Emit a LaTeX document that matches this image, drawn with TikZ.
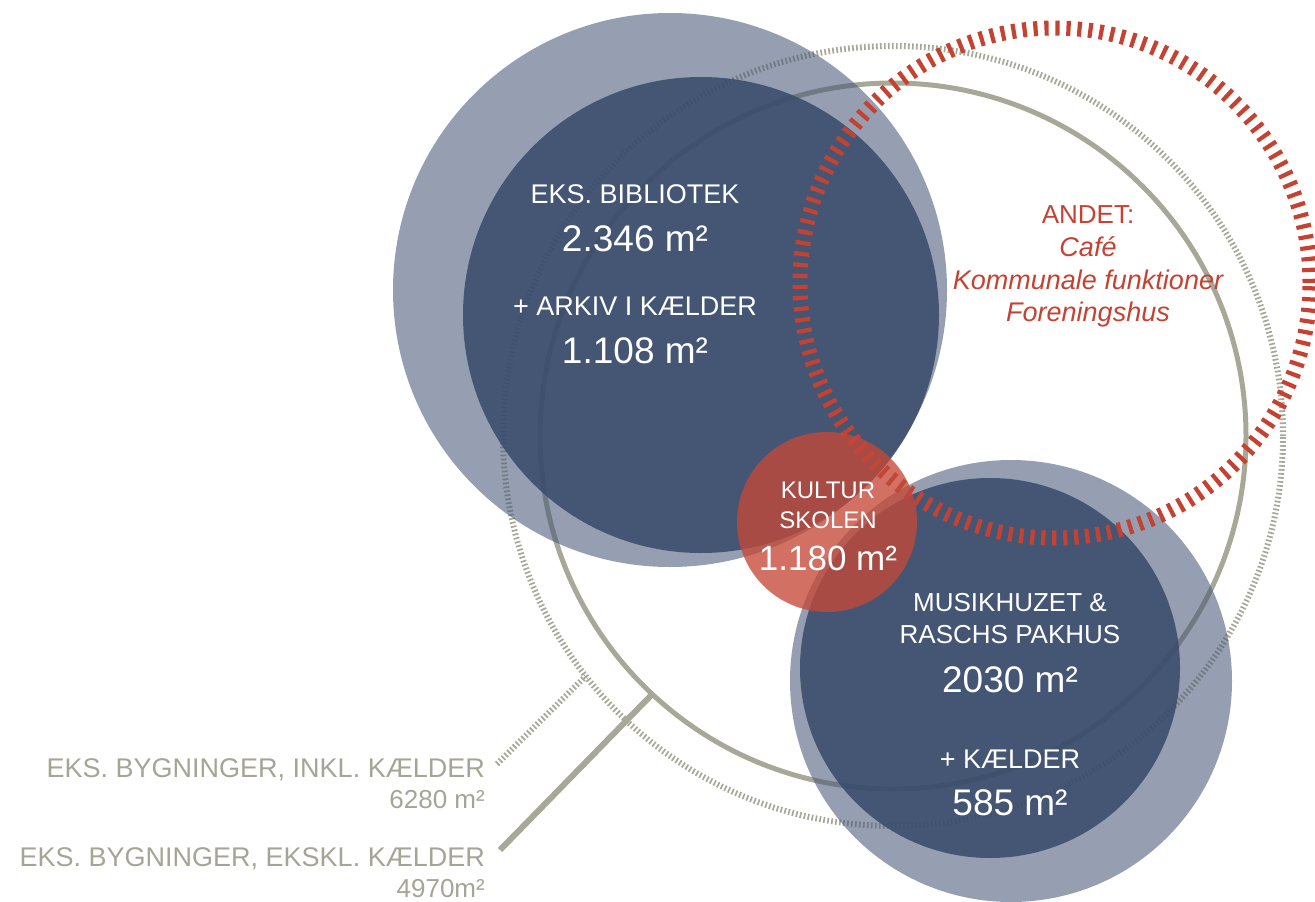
\documentclass[tikz,border=0pt]{standalone}
\usepackage{fontspec}
\setmainfont{Liberation Sans}
\definecolor{navy}{RGB}{70,87,117}
\definecolor{navydk}{RGB}{56,74,107}
\definecolor{redc}{RGB}{197,72,56}
\definecolor{ringred}{RGB}{196,66,50}
\definecolor{olive}{RGB}{168,168,152}
\definecolor{labelgray}{RGB}{165,165,150}
\begin{document}
\begin{tikzpicture}[x=1pt,y=-1pt,
  disc/.style={circle, inner sep=0pt, outer sep=0pt, draw=none},
  txt/.style={inner sep=0pt, anchor=base, text=white},
  sz/.style={font=\fontsize{#1}{#1}\selectfont},
  dotline/.style={draw=olive, line width=6pt, dash pattern=on 1.7pt off 2.3pt},
  solidline/.style={draw=olive, line width=5pt},
  halo/.style={disc, fill=navy, fill opacity=0.57},
  core/.style={disc, fill=navydk, fill opacity=0.85},
  glbl/.style={inner sep=0pt, anchor=base east, text=labelgray},
  rtxt/.style={inner sep=0pt, anchor=base, text=ringred},
]
\useasboundingbox (0,0) rectangle (1315,902);
% gray rings
\node[disc, dotline, minimum size=780pt] (dotring) at (893,436) {};
\node[disc, solidline, minimum size=706pt] (solidring) at (893,436) {};
% connectors
\coordinate (dotstart) at (497,764);
\coordinate (solidstart) at (500,850);
\draw[dotline] (dotstart) -- (dotring.218);
\draw[solidline, line width=6pt] (solidstart) -- (solidring.227);
% blue circles
\node[halo, minimum size=554pt] (libhalo) at (670,290) {};
\node[core, minimum size=476pt] (lib) at (701,315) {};
\node[halo, minimum size=442pt] (muhalo) at (1011,681) {};
\node[core, minimum size=380pt] (mu) at (990,668) {};
% red dashed ring
\node[disc, draw=ringred, line width=15pt, dash pattern=on 4.2pt off 6.8pt, minimum size=510pt] (andet) at (1055,283) {};
% red disc
\node[disc, fill=redc, fill opacity=0.78, minimum size=180pt] (kultur) at (827,522) {};
% texts in circles
\node[txt, sz=27] (biblab) at (635,203) {EKS. BIBLIOTEK};
\node[txt, sz=37] (bibnum) at (635,251) {2.346 m²};
\node[txt, sz=27] (arklab) at (635,315) {+ ARKIV I KÆLDER};
\node[txt, sz=37] (arknum) at (635,363) {1.108 m²};
\node[txt, sz=24] (kul1) at (828,498) {KULTUR};
\node[txt, sz=24] (kul2) at (828,528) {SKOLEN};
\node[txt, sz=35] (kulnum) at (828,570) {1.180 m²};
\node[txt, sz=26] (mus1) at (1010,611) {MUSIKHUZET \&};
\node[txt, sz=26] (mus2) at (1010,643) {RASCHS PAKHUS};
\node[txt, sz=37] (musnum) at (1010,692) {2030 m²};
\node[txt, sz=27] (kael) at (1010,768) {+ KÆLDER};
\node[txt, sz=37] (kaelnum) at (1010,815) {585 m²};
% red text
\node[rtxt, sz=26] (and1) at (1088,223) {ANDET:};
\node[rtxt, sz=27] (and2) at (1088,256) {\itshape Café};
\node[rtxt, sz=27] (and3) at (1088,289) {\itshape Kommunale funktioner};
\node[rtxt, sz=27] (and4) at (1088,321) {\itshape Foreningshus};
% gray labels
\node[glbl, sz=27] (inkl) at (485,777) {EKS. BYGNINGER, INKL. KÆLDER};
\node[glbl, sz=26] (inklnum) at (485,808) {6280 m²};
\node[glbl, sz=27] (ekskl) at (485,866) {EKS. BYGNINGER, EKSKL. KÆLDER};
\node[glbl, sz=26] (eksklnum) at (485,897) {4970m²};
\end{tikzpicture}
\end{document}
